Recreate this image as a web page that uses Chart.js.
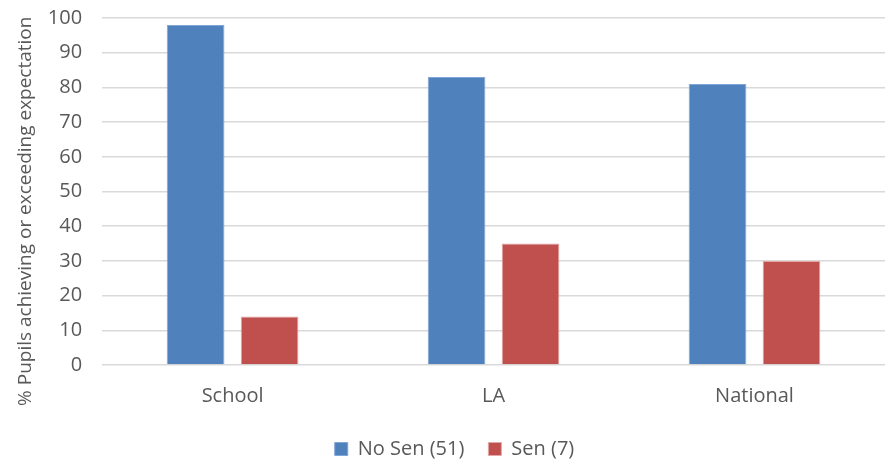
<!DOCTYPE html>
<html>
<head>
<meta charset="utf-8">
<script src="https://cdn.jsdelivr.net/npm/chart.js@4/dist/chart.umd.min.js"></script>
<style>
html,body{margin:0;padding:0;background:#fff;}
#wrap{width:889px;height:459px;position:relative;}
</style>
</head>
<body>
<div id="wrap"><canvas id="c" width="889" height="459"></canvas></div>
<script>
const categories = ["School", "LA", "National"];
const noSen = [98, 83, 81];
const sen = [14, 35, 30];
const seriesNames = ["No Sen (51)", "Sen (7)"];
const yTicks = [0, 10, 20, 30, 40, 50, 60, 70, 80, 90, 100];
const yTitle = "% Pupils achieving or exceeding expectation";

const FONT = "'Open Sans', 'Liberation Sans', sans-serif";
const GREY = "#595959";

const shiftLegend = {
  id: "shiftLegend",
  afterLayout(chart) {
    const lg = chart.legend;
    if (lg) { lg.left += 5; lg.right += 5; }
  }
};

new Chart(document.getElementById("c"), {
  type: "bar",
  data: {
    labels: categories,
    datasets: [
      { label: seriesNames[0], data: noSen, backgroundColor: "#4f81bd", borderColor: "#7fa6d6", borderWidth: 1 },
      { label: seriesNames[1], data: sen, backgroundColor: "#c0504d", borderColor: "#e4a7a6", borderWidth: 1 }
    ]
  },
  plugins: [shiftLegend],
  options: {
    responsive: false,
    animation: false,
    layout: { padding: { top: 18, right: 4, left: 14, bottom: -10 } },
    datasets: { bar: { categoryPercentage: 0.567, barPercentage: 0.78 } },
    scales: {
      x: {
        grid: { display: false },
        border: { display: false },
        ticks: { color: GREY, font: { family: FONT, size: 20 }, padding: 11 },
        afterFit: (axis) => { axis.height = 50; }
      },
      y: {
        min: 0, max: 100,
        afterBuildTicks: (axis) => { axis.ticks = yTicks.map(v => ({ value: v })); },
        grid: { color: "#d9d9d9", lineWidth: 1.5, drawTicks: true, tickLength: 20, tickColor: "rgba(0,0,0,0)" },
        border: { display: false },
        ticks: { color: GREY, font: { family: FONT, size: 20 }, padding: 0 },
        title: { display: true, text: yTitle + "        ", color: GREY, font: { family: FONT, size: 19 }, padding: { top: 0, bottom: 11 } }
      }
    },
    plugins: {
      legend: {
        position: "bottom",
        labels: { color: GREY, font: { family: FONT, size: 20 }, boxWidth: 13, boxHeight: 13, padding: 24 }
      },
      tooltip: { enabled: false }
    }
  }
});
</script>
</body>
</html>
